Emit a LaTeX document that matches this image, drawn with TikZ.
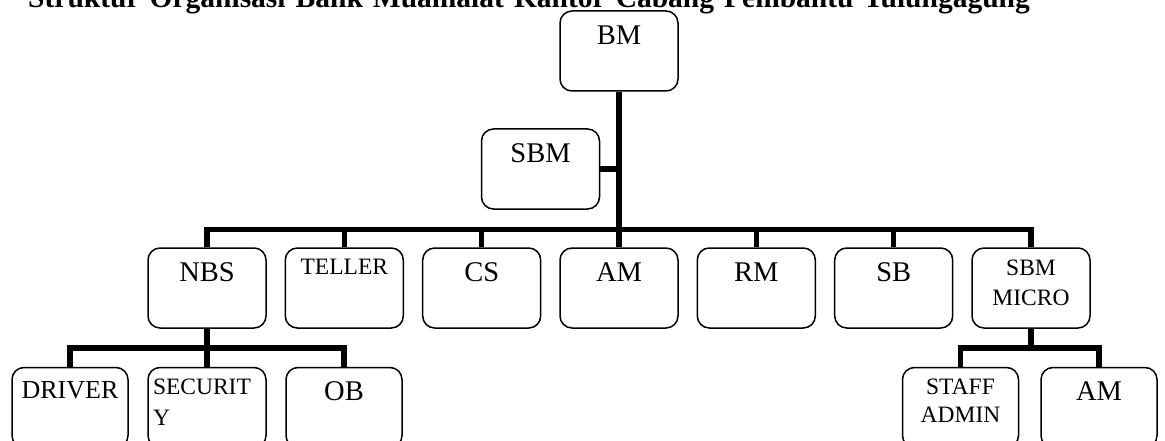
\documentclass[tikz,border=0pt]{standalone}
\usepackage{fontspec}
\setmainfont{Liberation Serif}
\usepackage{tikz}
\newcommand{\baris}[2]{\begin{tabular}[t]{@{}c@{}}#1\\#2\end{tabular}}
\tikzset{%
  % Specifications for style of nodes:
            base/.style = {rectangle, rounded corners=12pt, draw=black,
                           line width=1.5pt, minimum width=118pt,
                           inner sep=0pt, text height=33.5pt, text depth=46.5pt,
                           font=\fontsize{28.5}{34}\selectfont},
           bawah/.style = {base, minimum width=116pt,
                           text height=32.5pt, text depth=47.5pt},
           kecil/.style = {base, font=\fontsize{23.5}{30.5}\selectfont,
                           text height=27pt, text depth=53pt},
  % Specifications for style of lines:
           garis/.style = {draw=black, line width=5.5pt},
}

\begin{document}
\begin{tikzpicture}[x=1pt, y=-1pt]

\path[use as bounding box] (0,0) rectangle (1165,441);
\clip (0,0) rectangle (1165,441);

\node (Judul) [inner sep=0pt, anchor=base west,
    font=\fontsize{29.5}{35}\selectfont\bfseries] at (28,8)
    {\spaceskip=10pt\relax Struktur Organisasi Bank Muamalat Kantor Cabang Pembantu Tulungagung};

\node (BM)       [base]  at (619,51)      {BM};

\node (SBM)      [base]  at (540.5,169)   {SBM};

\node (NBS)      [base]  at (207,288)     {NBS};

\node (TELLER)   [kecil, text height=26pt, text depth=54pt] at (344.3,288) {TELLER};

\node (CS)       [base]  at (481.7,288)   {CS};

\node (AM)       [base]  at (619,288)     {AM};

\node (RM)       [base]  at (756.3,288)   {RM};

\node (SB)       [base]  at (893.7,288)   {SB};

\node (SBMMICRO) [kecil] at (1031,288)    {\baris{SBM}{MICRO}};

\node (DRIVER)   [bawah, font=\fontsize{26}{31}\selectfont,
                  text height=31pt, text depth=49pt] at (70,407.5) {DRIVER};

\node (SECURITY) [kecil] at (207,407.5)
    {\parbox[t]{108pt}{\raggedright SECURIT\\Y}};

\node (OB)       [bawah] at (344,407.5)   {OB};

\node (STAFF)    [kecil, minimum width=116pt,
                  font=\fontsize{23.5}{28}\selectfont] at (960.5,407.5) {\baris{STAFF}{ADMIN}};

\node (AMMICRO)  [bawah] at (1099,407.5)  {AM};

% lines
\coordinate (Bus)   at (619,229.5);
\coordinate (Cab1)  at (207,348);
\coordinate (Cab2)  at (1031,348);

\draw[garis]          (BM.south) -- (AM.north);
\draw[garis]          (SBM.east) -- (SBM.east -| BM.south);
\draw[garis]          (NBS.north) |- (Bus) -| (SBMMICRO.north);
\foreach \n in {TELLER,CS,RM,SB}
  \draw[garis]        (\n.north) -- (\n.north |- Bus);

\draw[garis]          (NBS.south) -- (SECURITY.north);
\draw[garis]          (DRIVER.north) |- (Cab1) -| (OB.north);
\draw[garis]          (SBMMICRO.south) -- (Cab2);
\draw[garis]          (STAFF.north) |- (Cab2) -| (AMMICRO.north);
  \end{tikzpicture}
\end{document}
